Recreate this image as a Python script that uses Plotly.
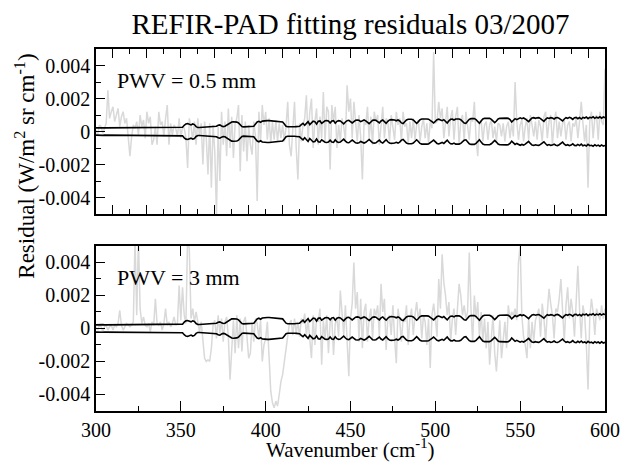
import plotly.graph_objects as go
from plotly.subplots import make_subplots

# Wavenumber grid (cm^-1)
wavenumber = list(range(300, 601))

# Values below are in units of 1e-4 W/(m^2 sr cm^-1)
UNIT = 1e-4

# Measurement noise envelope (upper; lower is its mirror)
noise_upper = [
    2.2,2.3,2.2,2.2,2.3,2.2,2.2,2.3,2.2,2.2,
    2.3,2.2,2.2,2.3,2.2,2.2,2.3,2.2,2.2,2.3,
    2.2,2.2,2.3,2.2,2.2,2.3,2.2,2.2,2.3,2.2,
    2.2,2.3,2.2,2.2,2.3,2.2,2.2,2.3,2.2,2.2,
    2.3,2.2,2.2,2.3,2.2,2.2,2.3,2.2,2.3,2.4,
    2.4,
    2.6,3.8,4.6,4.8,4.4,4.0,4.6,4.2,3.0,2.4,
    2.4,2.5,2.5,2.6,2.5,2.6,2.7,2.8,2.8,3.0,3.2,
    3.8,4.0,3.4,3.0,3.2,3.8,4.8,5.5,5.8,
    5.9,5.9,5.7,5.2,4.0,3.0,2.8,2.8,2.9,3.0,
    3.0,3.0,3.2,4.5,5.8,6.2,5.6,6.3,6.5,6.6,
    6.6,6.6,6.5,6.5,6.5,6.4,6.4,6.3,6.2,5.8,
    4.5,3.2,2.9,2.8,2.8,2.8,2.9,3.0,3.0,3.2,
    4.2,5.0,3.8,5.2,6.0,4.2,5.5,6.3,6.0,4.5,
    6.2,6.4,5.0,6.0,6.5,6.6,6.4,5.2,6.4,6.6,
    5.0,6.2,6.6,6.4,5.5,4.6,5.8,6.6,6.8,6.2,
    5.2,6.0,6.8,7.0,6.8,6.0,6.6,7.0,6.5,5.5,
    4.8,5.8,6.8,7.0,6.8,6.0,5.2,6.4,7.0,6.0,
    5.0,6.2,7.0,7.2,7.2,7.0,6.5,7.0,6.4,5.2,
    4.8,6.0,7.0,7.4,7.5,7.4,7.0,6.0,5.0,6.0,
    7.2,7.6,7.7,7.7,7.6,7.5,7.0,6.0,5.2,6.2,
    7.2,7.5,7.0,6.6,7.2,6.0,5.2,6.5,7.4,7.5,
    7.0,7.6,7.7,7.6,7.2,6.4,5.2,5.0,6.2,7.4,
    7.8,7.9,7.8,7.2,5.8,5.0,6.4,7.6,8.0,8.1,
    8.1,8.0,7.4,6.2,5.4,6.4,7.6,8.0,8.1,8.2,
    8.2,8.1,8.0,7.2,5.8,6.8,7.8,7.2,8.0,8.3,
    7.8,8.2,7.6,6.6,6.0,7.2,8.2,8.4,8.0,8.3,
    8.4,7.8,6.8,6.2,7.4,8.3,7.9,8.4,8.2,7.6,
    8.3,8.5,8.0,7.0,6.4,7.6,8.4,8.0,8.6,8.2,
    7.4,8.4,8.6,7.8,8.5,7.6,8.6,8.2,8.8,7.8,
    8.6,8.3,8.9,8.0,8.7,8.2,8.9,8.1,8.8,8.4,
]

# Fitting residuals, PWV = 0.5 mm
residual_pwv05 = [
    1,-2,4,3,-1,2,5,25,8,12,
    15,6,10,14,3,9,12,5,8,-6,
    -15,-3,4,2,6,-2,10,3,7,-4,
    12,5,9,-8,-5,3,-8,12,4,6,
    -3,8,16,-8,5,-2,4,2,-3,8,
    -4,3,2,-4,-22,8,3,-5,6,-8,
    8,-3,5,-20,6,-4,-26,5,-34,4,
    -12,-50,3,-30,12,-8,6,-15,14,-10,
    9,-16,5,8,16,-24,10,-12,6,-18,
    4,-8,-14,6,-3,-42,12,-6,16,4,
    12,-5,8,-7,6,-5,7,-6,5,-4,
    4,-6,3,18,-8,-15,6,18,-10,-29,
    5,-6,4,8,22,-5,12,20,-10,6,
    14,-8,9,-4,24,-6,15,12,-23,16,
    6,15,-10,4,-6,8,3,-5,28,12,
    20,-4,18,8,-6,10,-3,-29,6,4,
    15,-5,9,-8,12,6,10,-8,5,15,
    -4,8,6,-6,10,3,-5,12,4,8,
    -6,12,3,5,-7,6,-4,8,-5,4,
    7,-6,3,8,-4,5,-7,6,2,48,
    5,6,18,8,14,-4,6,15,-3,8,
    13,-5,9,15,-8,6,10,-6,12,4,
    -5,8,6,18,-4,-15,5,7,-6,4,
    6,-5,4,7,-4,3,-6,5,4,-3,
    5,-6,3,6,-4,5,-3,30,6,-5,
    4,7,-6,3,8,-5,10,4,-3,6,
    -5,7,3,-6,9,12,-4,6,10,-8,
    5,12,-4,6,-3,5,7,-5,4,6,
    -6,5,3,8,-4,6,18,5,-6,4,
    -34,6,12,-4,8,10,-5,12,6,4,
    38,
]

# Fitting residuals, PWV = 3 mm
residual_pwv3 = [
    1,-1,2,1,-2,1,2,-1,1,2,
    -1,2,1,3,11,2,-1,1,3,2,
    1,2,4,55,8,55,12,3,7,2,
    1,3,-2,4,2,18,3,2,4,-1,
    3,12,2,4,1,3,7,2,3,26,
    5,25,8,3,55,48,6,12,4,10,
    3,-2,4,-8,-18,-20,-19,-20,-12,2,
    5,-6,8,-3,6,-8,4,7,-5,-31,
    -10,5,-15,8,-12,6,-14,4,7,-9,
    -18,-15,4,-8,6,3,-6,5,-20,-10,
    -6,4,-20,-38,-45,-48,-44,-47,-40,-32,
    -28,-20,-12,-6,3,5,-4,6,-3,4,
    -5,6,3,9,-4,5,-6,-18,8,-10,
    6,4,12,-22,5,-6,8,-15,4,6,
    -16,3,6,-5,23,8,-4,14,-6,-29,
    6,15,40,12,22,-8,18,-12,10,15,
    -8,6,12,-6,12,8,14,-5,27,10,
    18,-13,6,8,-4,14,-6,-21,12,5,
    -8,6,4,14,-10,6,12,-4,8,16,
    5,12,-6,8,4,-10,6,-24,8,15,
    6,-5,30,12,45,28,20,8,16,-8,
    5,12,-4,10,27,20,8,14,6,10,
    46,12,-8,20,6,16,-5,10,-8,6,
    -12,4,-22,-6,8,-15,-26,-10,5,-18,
    -6,4,-12,14,6,10,8,12,5,40,
    50,8,-5,-10,-18,6,-12,4,-8,5,
    8,12,-5,15,6,-8,10,24,15,8,
    -6,12,10,18,30,12,-8,14,25,6,
    18,10,-5,16,38,12,-6,14,8,-10,
    -37,6,18,10,-4,12,8,5,14,6,
    12,
]

panel_labels = ["PWV = 0.5 mm", "PWV = 3 mm"]
y_tick_vals = [-0.004, -0.002, 0, 0.002, 0.004]
y_tick_text = ["-0.004", "-0.002", "0", "0.002", "0.004"]
x_tick_vals = [300, 350, 400, 450, 500, 550, 600]

FONT = "Liberation Serif, Times New Roman, serif"
GREY = "#d9d9d9"

fig = make_subplots(rows=2, cols=1, vertical_spacing=0.085)

env_hi = [v * UNIT for v in noise_upper]
env_lo = [-v * UNIT for v in noise_upper]

for row, res in ((1, residual_pwv05), (2, residual_pwv3)):
    fig.add_trace(go.Scatter(x=wavenumber, y=[v * UNIT for v in res], mode="lines",
                             line=dict(color=GREY, width=1.5), showlegend=False,
                             hoverinfo="skip"), row=row, col=1)
    fig.add_trace(go.Scatter(x=wavenumber, y=env_hi, mode="lines",
                             line=dict(color="black", width=1.6), showlegend=False),
                  row=row, col=1)
    fig.add_trace(go.Scatter(x=wavenumber, y=env_lo, mode="lines",
                             line=dict(color="black", width=1.6), showlegend=False),
                  row=row, col=1)

axis_common = dict(showgrid=False, zeroline=False, showline=True, linecolor="black",
                   linewidth=1.5, ticks="inside", tickcolor="black",
                   tickfont=dict(family=FONT, size=20, color="black"))

fig.update_xaxes(range=[300, 600], mirror="ticks", **axis_common)
fig.update_xaxes(row=1, col=1, showticklabels=False, tickmode="linear", tick0=310, dtick=20,
                 ticklen=9, tickwidth=1,
                 minor=dict(ticks="inside", dtick=20, tick0=300, ticklen=5,
                            tickcolor="black", tickwidth=1))
fig.update_xaxes(row=2, col=1, tickmode="array", tickvals=x_tick_vals, ticklen=10, tickwidth=1,
                 minor=dict(ticks="inside", dtick=25, tick0=300, ticklen=5,
                            tickcolor="black", tickwidth=1))
fig.update_yaxes(range=[-0.005, 0.005], mirror=True, tickmode="array",
                 tickvals=y_tick_vals, ticktext=y_tick_text, ticklen=9, tickwidth=1,
                 minor=dict(ticks="inside", tickmode="array",
                            tickvals=[-0.003, -0.001, 0.001, 0.003], ticklen=5,
                            tickcolor="black", tickwidth=1),
                 **axis_common)

fig.update_layout(
    width=632, height=464,
    margin=dict(l=96, r=22, t=49, b=53),
    plot_bgcolor="white", paper_bgcolor="white",
    font=dict(family=FONT, color="black"),
    title=dict(text="REFIR-PAD fitting residuals 03/2007", x=0.5, xref="paper",
               xanchor="center", y=0.948, yref="container", yanchor="middle",
               font=dict(family=FONT, size=29, color="black")),
)
fig.update_yaxes(domain=[0.544, 1.0], row=1, col=1)
fig.update_yaxes(domain=[0.0, 0.456], row=2, col=1)

fig.add_annotation(x=311, y=0.0031, xref="x", yref="y", text=panel_labels[0], showarrow=False,
                   xanchor="left", yanchor="middle", font=dict(family=FONT, size=22, color="black"))
fig.add_annotation(x=311, y=0.0031, xref="x2", yref="y2", text=panel_labels[1], showarrow=False,
                   xanchor="left", yanchor="middle", font=dict(family=FONT, size=22, color="black"))
fig.add_annotation(x=-0.138, y=0.677, xref="paper", yref="paper",
                   text="Residual (W/m<sup>2</sup> sr cm<sup>-1</sup>)", textangle=-90,
                   showarrow=False, xanchor="center", yanchor="middle",
                   font=dict(family=FONT, size=23, color="black"))
fig.add_annotation(x=0.5, y=-0.1436, xref="paper", yref="paper",
                   text="Wavenumber (cm<sup>-1</sup>)", showarrow=False,
                   xanchor="center", yanchor="bottom", borderpad=0,
                   font=dict(family=FONT, size=21, color="black"))

# remove the default page margin so the figure sits at the window's top-left corner
fig.write_html("out.html", config={"displayModeBar": False},
               post_script="document.body.style.margin='0';document.body.style.overflow='hidden';")
